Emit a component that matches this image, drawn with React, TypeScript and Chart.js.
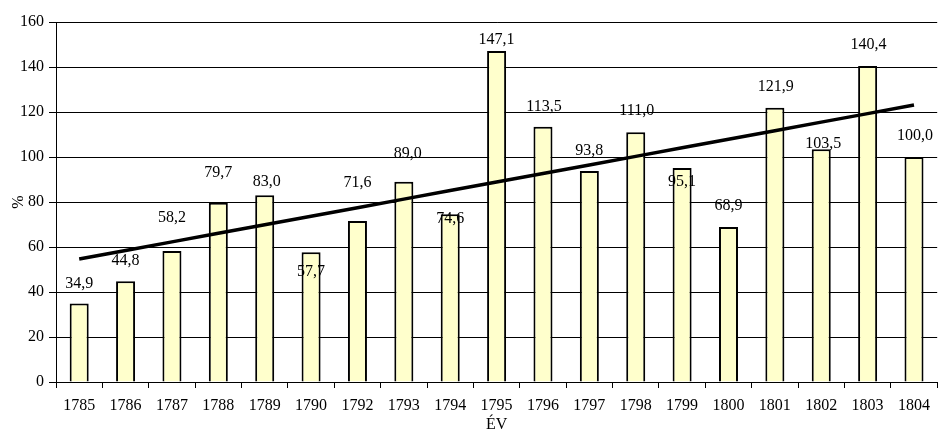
import React, { useEffect, useRef } from "react";
import { Chart, registerables } from "chart.js";

Chart.register(...registerables);

const years = ["1785", "1786", "1787", "1788", "1789", "1790", "1792", "1793", "1794", "1795", "1796", "1797", "1798", "1799", "1800", "1801", "1802", "1803", "1804"];
const values = [34.9, 44.8, 58.2, 79.7, 83.0, 57.7, 71.6, 89.0, 74.6, 147.1, 113.5, 93.8, 111.0, 95.1, 68.9, 121.9, 103.5, 140.4, 100.0];
// label offsets (pixels) relative to bar top, as placed in the original
const labelDy = [-20, -20, -33, -30, -13, 20, -38, -28, 5, -11, -20, -20, -21, 14, -21, -21, -5, -21, -21];
const labelDx = [0, 0, 0, 0, 2, 0, 0, 4, 0, 0, 1, 0, 1, 0, 0, 1, 2, 1, 1];
const yMin = 0;
const yMax = 160;
const yStep = 20;

function linearTrend(ys: number[]): number[] {
  const n = ys.length;
  const mx = (n - 1) / 2;
  const my = ys.reduce((a, b) => a + b, 0) / n;
  let sxy = 0;
  let sxx = 0;
  ys.forEach((y, i) => {
    sxy += (i - mx) * (y - my);
    sxx += (i - mx) * (i - mx);
  });
  const b = sxy / sxx;
  return ys.map((_, i) => my + b * (i - mx));
}

const FONT = "'Liberation Serif', 'Times New Roman', serif";

const labelPlugin = {
  id: "barLabels",
  afterDatasetsDraw(chart: any) {
    const meta = chart.getDatasetMeta(0);
    const ctx = chart.ctx;
    ctx.save();
    ctx.font = `16px ${FONT}`;
    ctx.fillStyle = "#000";
    ctx.textAlign = "center";
    ctx.textBaseline = "middle";
    meta.data.forEach((el: any, i: number) => {
      const txt = values[i].toFixed(1).replace(".", ",");
      ctx.fillText(txt, el.x + labelDx[i], el.y + labelDy[i]);
    });
    ctx.restore();
  },
};

export default function App() {
  const ref = useRef<HTMLCanvasElement | null>(null);
  useEffect(() => {
    if (!ref.current) return;
    const chart = new Chart(ref.current, {
      type: "bar",
      data: {
        labels: years,
        datasets: [
          {
            type: "bar",
            data: values,
            backgroundColor: "#FFFFCC",
            borderColor: "#000",
            borderWidth: 2,
            barPercentage: 0.41,
            categoryPercentage: 1,
            order: 2,
          },
          {
            type: "line",
            data: linearTrend(values),
            borderColor: "#000",
            borderWidth: 3.5,
            pointRadius: 0,
            fill: false,
            order: 1,
          } as any,
        ],
      },
      options: {
        animation: false,
        responsive: false,
        maintainAspectRatio: false,
        layout: { padding: { top: 22, right: 0, bottom: 0, left: 0 } },
        plugins: {
          legend: { display: false },
          tooltip: { enabled: false },
        },
        scales: {
          x: {
            offset: true,
            grid: {
              display: true,
              offset: true,
              drawOnChartArea: false,
              drawTicks: true,
              tickLength: 6,
              color: "#000",
              lineWidth: 1,
            },
            border: { display: true, color: "#000", width: 1 },
            ticks: {
              color: "#000",
              font: { family: FONT, size: 16 },
              padding: 8,
              maxRotation: 0,
              autoSkip: false,
            },
            title: {
              display: true,
              text: "ÉV",
              color: "#000",
              font: { family: FONT, size: 16, lineHeight: 0.625 },
              padding: 0,
            },
            afterFit: (s: any) => {
              s.height = 48;
            },
          },
          y: {
            min: yMin,
            max: yMax,
            ticks: {
              stepSize: yStep,
              color: "#000",
              font: { family: FONT, size: 16 },
              padding: 5,
            },
            grid: {
              color: "#000",
              lineWidth: 1,
              tickLength: 7,
            },
            border: { display: true, color: "#000", width: 1 },
            title: {
              display: true,
              text: "%",
              color: "#000",
              font: { family: FONT, size: 16 },
              padding: { top: 9, bottom: 0 },
            },
            afterFit: (s: any) => {
              s.width = 56;
            },
          },
        },
      },
      plugins: [labelPlugin],
    });
    return () => chart.destroy();
  }, []);
  return (
    <div style={{ position: "fixed", left: 0, top: 0, width: 938, height: 430, background: "#fff" }}>
      <canvas ref={ref} width={938} height={430} style={{ width: 938, height: 430 }} />
    </div>
  );
}
